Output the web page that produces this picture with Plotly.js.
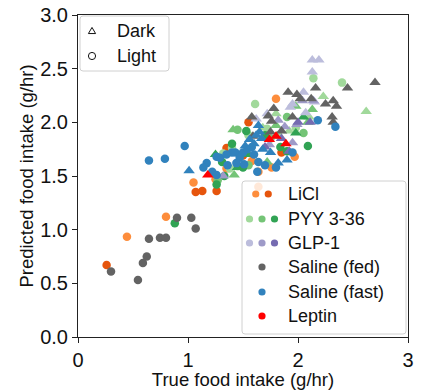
<!DOCTYPE html>
<html>
<head>
<meta charset="utf-8">
<script src="https://cdn.plot.ly/plotly-3.0.1.min.js"></script>
<style>
  html, body { margin: 0; padding: 0; background: #fff; }
  #chart { width: 428px; height: 390px; }
</style>
</head>
<body>
<div id="chart"></div>
<script>
// Measured vs. predicted food intake (g/hr); phase: D = dark (triangles), L = light (circles)
// dose: 1..3 selects the shade within each treatment colour family

const liclX     = [0.445, 0.80, 1.05, 1.35, 1.80, 1.64, 1.58, 1.97, 1.64, 1.25, 1.76,
                   0.26, 1.07, 1.13, 1.26, 1.55, 1.35, 1.50, 1.85];
const liclY     = [0.935, 1.12, 1.44, 1.57, 2.22, 1.54, 1.64, 1.68, 1.40, 1.47, 1.58,
                   0.67, 1.35, 1.36, 1.36, 2.00, 1.76, 1.69, 1.72];
const liclDose  = [1, 1, 1, 1, 1, 1, 1, 1, 1, 1, 1,
                   2, 2, 2, 2, 2, 2, 2, 2];
const liclPhase = ['L','L','L','L','L','L','L','L','L','L','L',
                   'L','L','L','L','L','L','L','L'];

const pyyX      = [2.14, 2.40, 1.61, 1.32, 1.45, 1.82, 1.98, 1.38, 1.40, 1.72, 1.55,
                   1.45, 1.27, 1.55, 1.75, 2.05, 1.90,
                   0.88, 1.26, 1.31, 1.50, 1.53, 1.84, 1.90, 2.09, 1.40, 1.70, 1.33,
                   2.62, 2.23, 1.68, 1.92, 2.10, 1.80,
                   2.13, 2.09, 1.41, 1.80, 1.42, 1.72, 1.98,
                   1.55, 1.98, 2.05, 1.45, 1.25];
const pyyY      = [2.41, 2.37, 2.17, 1.71, 1.59, 1.88, 1.95, 1.57, 1.76, 1.94, 1.88,
                   1.93, 1.46, 1.60, 1.85, 1.90, 2.05,
                   1.06, 1.42, 1.63, 1.58, 1.92, 1.77, 1.73, 1.78, 1.80, 1.88, 1.50,
                   2.10, 2.24, 1.95, 1.92, 2.05, 2.08,
                   2.12, 2.00, 1.93, 1.97, 1.51, 1.63, 2.15,
                   1.70, 1.90, 2.05, 1.58, 1.70];
const pyyDose   = [1, 1, 1, 1, 1, 1, 1, 1, 1, 1, 1,
                   2, 2, 2, 2, 2, 2,
                   3, 3, 3, 3, 3, 3, 3, 3, 3, 3, 3,
                   1, 1, 1, 1, 1, 1,
                   2, 2, 2, 2, 2, 2, 2,
                   3, 3, 3, 3, 3];
const pyyPhase  = ['L','L','L','L','L','L','L','L','L','L','L',
                   'L','L','L','L','L','L',
                   'L','L','L','L','L','L','L','L','L','L','L',
                   'D','D','D','D','D','D',
                   'D','D','D','D','D','D','D',
                   'D','D','D','D','D'];

const glpX      = [2.13, 2.19, 2.13, 2.05, 1.72, 1.93, 2.07, 1.95, 2.15, 1.62,
                   2.04, 2.14, 1.88, 1.99, 1.32, 1.74, 1.95, 1.82,
                   2.00, 2.11, 1.85, 1.70, 1.92];
const glpY      = [2.58, 2.58, 2.47, 2.28, 2.08, 2.14, 2.09, 2.17, 2.19, 2.03,
                   2.20, 2.20, 1.96, 1.98, 1.50, 1.79, 1.81, 2.02,
                   2.00, 2.00, 1.85, 1.77, 1.73];
const glpDose   = [1, 1, 1, 1, 1, 1, 1, 1, 1, 1,
                   2, 2, 2, 2, 2, 2, 2, 2,
                   3, 3, 3, 3, 3];
const glpPhase  = ['D','D','D','D','D','D','D','D','D','D',
                   'D','D','D','D','D','D','D','D',
                   'D','D','D','D','D'];

const fedX      = [0.90, 1.03, 1.07, 0.645, 0.745, 0.80, 0.625, 0.59, 0.30, 0.545,
                   2.16, 2.45, 2.70, 1.91, 1.99, 2.25, 2.32, 2.35, 1.78, 1.73,
                   1.76, 2.31, 2.32, 1.58, 1.59, 1.75, 1.85, 2.12, 2.02, 1.95];
const fedY      = [1.11, 1.11, 1.01, 0.915, 0.925, 0.925, 0.75, 0.69, 0.61, 0.53,
                   2.32, 2.32, 2.37, 2.28, 2.26, 2.17, 2.20, 2.15, 2.13, 2.06,
                   2.01, 2.05, 2.00, 2.05, 1.87, 1.91, 1.92, 2.22, 2.22, 2.05];
const fedPhase  = ['L','L','L','L','L','L','L','L','L','L',
                   'D','D','D','D','D','D','D','D','D','D',
                   'D','D','D','D','D','D','D','D','D','D'];

const fastX     = [0.645, 0.79, 0.97, 1.17, 1.22, 1.26, 1.29, 1.40, 1.43, 1.50, 1.54, 1.58,
                   1.26, 1.51, 1.63, 1.95, 1.64, 2.18, 2.34, 1.35, 1.47, 1.70, 1.80, 1.44,
                   1.36, 1.60, 1.14,
                   1.01, 1.64, 1.65, 1.56, 1.60, 1.68, 1.62, 1.67, 1.82, 1.90, 1.75, 1.52];
const fastY     = [1.645, 1.66, 1.78, 1.62, 1.54, 1.68, 1.67, 1.72, 1.72, 1.72, 1.75, 1.77,
                   1.51, 1.61, 1.54, 1.72, 1.63, 2.02, 1.96, 1.70, 1.67, 1.60, 1.58, 1.62,
                   1.60, 1.70, 1.58,
                   1.55, 1.97, 1.91, 1.84, 1.80, 1.75, 1.88, 1.85, 1.62, 1.65, 1.72, 1.78];
const fastPhase = ['L','L','L','L','L','L','L','L','L','L','L','L',
                   'L','L','L','L','L','L','L','L','L','L','L','L',
                   'L','L','L',
                   'D','D','D','D','D','D','D','D','D','D','D','D'];

const leptinX     = [1.18, 1.80, 1.89, 1.74];
const leptinY     = [1.51, 1.87, 1.80, 1.84];
const leptinPhase = ['D','D','D','D'];

const xTicks = [0, 1, 2, 3];
const yTicks = [0, 0.5, 1.0, 1.5, 2.0, 2.5, 3.0];

// --- styling -------------------------------------------------------------
const FONT = '"Liberation Sans", Arial, sans-serif';
const shades = {
  licl:   ['#fd8d3c', '#e6550d'],
  pyy:    ['#a1d99b', '#74c476', '#31a354'],
  glp:    ['#bcbddc', '#9e9ac8', '#756bb1'],
  fed:    ['#636363'],
  fast:   ['#3182bd'],
  leptin: ['#ff0000']
};
const symbolFor = { D: 'triangle-up', L: 'circle' };
const sizeFor   = { D: 10, L: 8.5 };

function tracesFor(key, xs, ys, phases, doses) {
  const out = [];
  const nShade = shades[key].length;
  ['L', 'D'].forEach(ph => {
    for (let d = 1; d <= nShade; d++) {
      const tx = [], ty = [];
      xs.forEach((v, i) => {
        const dose = doses ? doses[i] : 1;
        if (phases[i] === ph && dose === d) { tx.push(v); ty.push(ys[i]); }
      });
      if (!tx.length) continue;
      out.push({
        type: 'scatter', mode: 'markers', x: tx, y: ty, showlegend: false,
        hoverinfo: 'x+y',
        marker: { symbol: symbolFor[ph], size: sizeFor[ph], color: shades[key][d - 1],
                  line: { width: 0 } }
      });
    }
  });
  return out;
}

const data = [].concat(
  tracesFor('licl', liclX, liclY, liclPhase, liclDose),
  tracesFor('pyy', pyyX, pyyY, pyyPhase, pyyDose),
  tracesFor('glp', glpX, glpY, glpPhase, glpDose),
  tracesFor('fed', fedX, fedY, fedPhase, null),
  tracesFor('fast', fastX, fastY, fastPhase, null),
  tracesFor('leptin', leptinX, leptinY, leptinPhase, null)
);

// --- legends drawn as boxes in paper space --------------------------------
const M = { l: 78, r: 20, t: 15, b: 53 };
const W = 428, H = 390;
const PW = W - M.l - M.r, PH = H - M.t - M.b;
const px = v => (v - M.l) / PW;
const py = v => (H - M.b - v) / PH;

function roundBox(x0, y0, x1, y1, r) {
  const a = px(x0), b = px(x1), top = py(y0), bot = py(y1);
  const rx = r / PW, ry = r / PH;
  return {
    type: 'path', xref: 'paper', yref: 'paper', layer: 'above',
    path: `M ${a + rx},${top} L ${b - rx},${top} Q ${b},${top} ${b},${top - ry} ` +
          `L ${b},${bot + ry} Q ${b},${bot} ${b - rx},${bot} L ${a + rx},${bot} ` +
          `Q ${a},${bot} ${a},${bot + ry} L ${a},${top - ry} Q ${a},${top} ${a + rx},${top} Z`,
    fillcolor: 'rgba(255,255,255,0.8)', line: { color: '#d0d0d0', width: 1 }
  };
}
function dot(cx, cy, r, color, open) {
  return {
    type: 'circle', xref: 'paper', yref: 'paper', layer: 'above',
    x0: px(cx - r), x1: px(cx + r), y0: py(cy + r), y1: py(cy - r),
    fillcolor: open ? 'rgba(0,0,0,0)' : color,
    line: open ? { color: color, width: 1 } : { width: 0 }
  };
}
function tri(cx, cy, r, color) {
  const h = r * 1.7;
  const p1 = `${px(cx)},${py(cy - h / 2 - 0.5)}`;
  const p2 = `${px(cx - r)},${py(cy + h / 2 - 0.5)}`;
  const p3 = `${px(cx + r)},${py(cy + h / 2 - 0.5)}`;
  return {
    type: 'path', xref: 'paper', yref: 'paper', layer: 'above',
    path: `M ${p1} L ${p2} L ${p3} Z`, line: { color: color, width: 1 },
    fillcolor: 'rgba(0,0,0,0)'
  };
}
function label(text, x, y) {
  return {
    text: text, xref: 'paper', yref: 'paper', x: px(x), y: py(y),
    xanchor: 'left', yanchor: 'middle', showarrow: false,
    font: { family: FONT, size: 18, color: '#111' }
  };
}

const shapes = [];
const annotations = [];

// phase legend (top left)
shapes.push(roundBox(80, 16, 169, 71, 3));
shapes.push(tri(92, 31, 3.6, '#111'));
shapes.push(dot(92, 56, 3.6, '#111', true));
annotations.push(label('Dark', 115, 31));
annotations.push(label('Light', 115, 56));

// treatment legend (bottom right)
const legRows = [
  { name: 'LiCl',          key: 'licl',   y: 194 },
  { name: 'PYY 3-36',      key: 'pyy',    y: 219 },
  { name: 'GLP-1',         key: 'glp',    y: 243 },
  { name: 'Saline (fed)',  key: 'fed',    y: 267 },
  { name: 'Saline (fast)', key: 'fast',   y: 292 },
  { name: 'Leptin',        key: 'leptin', y: 316 }
];
shapes.push(roundBox(242, 181, 406, 334, 3));
legRows.forEach(row => {
  const cols = shades[row.key];
  const step = 12.5;
  const start = 262 - step * (cols.length - 1) / 2;
  cols.forEach((c, i) => shapes.push(dot(start + i * step, row.y, 3.6, c, false)));
  annotations.push(label(row.name, 286, row.y));
});

const axisCommon = {
  showgrid: false, zeroline: false, showline: true, mirror: true,
  linecolor: '#222', linewidth: 1,
  ticks: 'outside', ticklen: 5, tickwidth: 1, tickcolor: '#222',
  tickfont: { family: FONT, size: 20, color: '#111' },
  automargin: false
};

const layout = {
  width: W, height: H,
  margin: M,
  paper_bgcolor: '#fff', plot_bgcolor: '#fff',
  showlegend: false,
  xaxis: Object.assign({}, axisCommon, {
    range: [0, 3], tickvals: xTicks, ticktext: xTicks.map(String),
    title: { text: 'True food intake (g/hr)', font: { family: FONT, size: 18.5, color: '#111' }, standoff: 3 }
  }),
  yaxis: Object.assign({}, axisCommon, {
    range: [0, 3], tickvals: yTicks, ticktext: yTicks.map(v => v.toFixed(1)),
    title: { text: 'Predicted food intake (g/hr)', font: { family: FONT, size: 18.5, color: '#111' }, standoff: 1 }
  }),
  shapes: shapes,
  annotations: annotations
};

Plotly.newPlot('chart', data, layout, { staticPlot: true, displayModeBar: false });
</script>
</body>
</html>
